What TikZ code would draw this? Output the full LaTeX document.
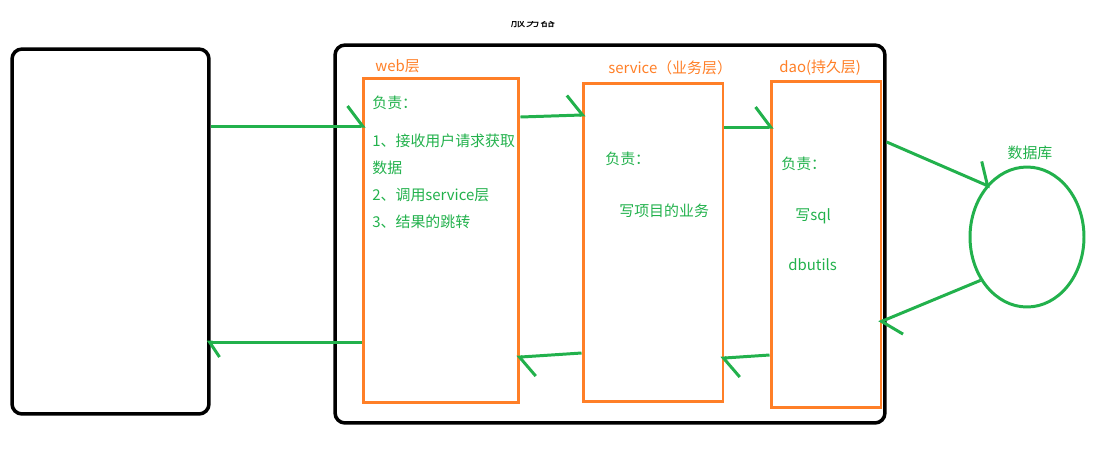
\documentclass[tikz,border=0pt]{standalone}
\usepackage{fontspec}
\setmainfont{Noto Sans CJK SC}
\usetikzlibrary{arrows.meta, shapes.geometric}
\definecolor{paintgreen}{RGB}{34,177,76}
\definecolor{paintorange}{RGB}{255,127,39}

\begin{document}
\begin{tikzpicture}[x=0.02cm, y=-0.02cm,
    every node/.style={font=\fontsize{8.5pt}{15.3pt}\selectfont},
    frame/.style={draw=black, line width=2pt, rounded corners=0.2cm, inner sep=0pt},
    layer/.style={draw=paintorange, line width=1.7pt, inner sep=0pt},
    flow/.style={draw=paintgreen, line width=1.7pt, shorten >=-0.08cm,
        -{Straight Barb[left, length=0.3cm, width=0.8cm]}},
    note/.style={text=paintgreen, anchor=west, inner sep=0pt, align=left},
    title/.style={text=paintorange, anchor=west, inner sep=0pt}]
    \useasboundingbox (0,0) rectangle (1099,458);

    % Title, cut off at the top
    \begin{scope}
        \clip (0,21) rectangle (1099,40);
        \node (servertitle) at (533,21) {服务器};
    \end{scope}

    % Client and server frames
    \node[frame, minimum width=3.94cm, minimum height=7.3cm] (client) at (110.5,231.5) {};
    \node[frame, minimum width=11cm, minimum height=7.56cm] (server) at (610,234) {};

    % The three layers
    \node[layer, minimum width=3.12cm, minimum height=6.5cm] (web) at (441,240.5) {};
    \node[layer, minimum width=2.8cm, minimum height=6.38cm] (service) at (653,242.5) {};
    \node[layer, minimum width=2.2cm, minimum height=6.54cm] (dao) at (826,244.5) {};

    \node[title] (webtitle) at (375,66) {web层};
    \node[title] (servicetitle) at (608,68) {service（业务层）};
    \node[title] (daotitle) at (779,68) {dao(持久层)};

    % Database
    \node[draw=paintgreen, line width=1.7pt, ellipse, inner sep=0pt,
          minimum width=2.28cm, minimum height=2.8cm] (db) at (1027,237) {};
    \node[text=paintgreen] (dbtitle) at (1030,153) {数据库};

    % What each layer does
    \node[note] (webduty) at (372,103) {负责：};
    \node[note] (webtasks) at (372,181.5) {1、接收用户请求获取\\数据\\2、调用service层\\3、结果的跳转};
    \node[note] (serviceduty) at (605,159) {负责：};
    \node[note] (servicetask) at (619,211) {写项目的业务};
    \node[note] (daoduty) at (781,164) {负责：};
    \node[note] (daosql) at (795,216) {写sql};
    \node[note] (daotool) at (788,265) {dbutils};

    % Request going in
    \draw[flow] (client.east |- 0,126) -- (web.west |- 0,126);
    \draw[flow] (web.east |- 0,117) -- (service.west |- 0,115);
    \draw[flow] (service.east |- 0,127) -- (dao.west |- 0,127);
    \draw[flow] (server.east |- 0,142) -- (db.128);

    % Response coming back
    \draw[flow] (db.223) -- (dao.east |- 0,321);
    \draw[flow] (dao.west |- 0,355) -- (service.east |- 0,358);
    \draw[flow] (service.west |- 0,353) -- (web.east |- 0,357);
    \draw[flow, -{Straight Barb[left, length=0.2cm, width=0.6cm]}] (web.west |- 0,342) -- (client.east |- 0,342);
\end{tikzpicture}
\end{document}
